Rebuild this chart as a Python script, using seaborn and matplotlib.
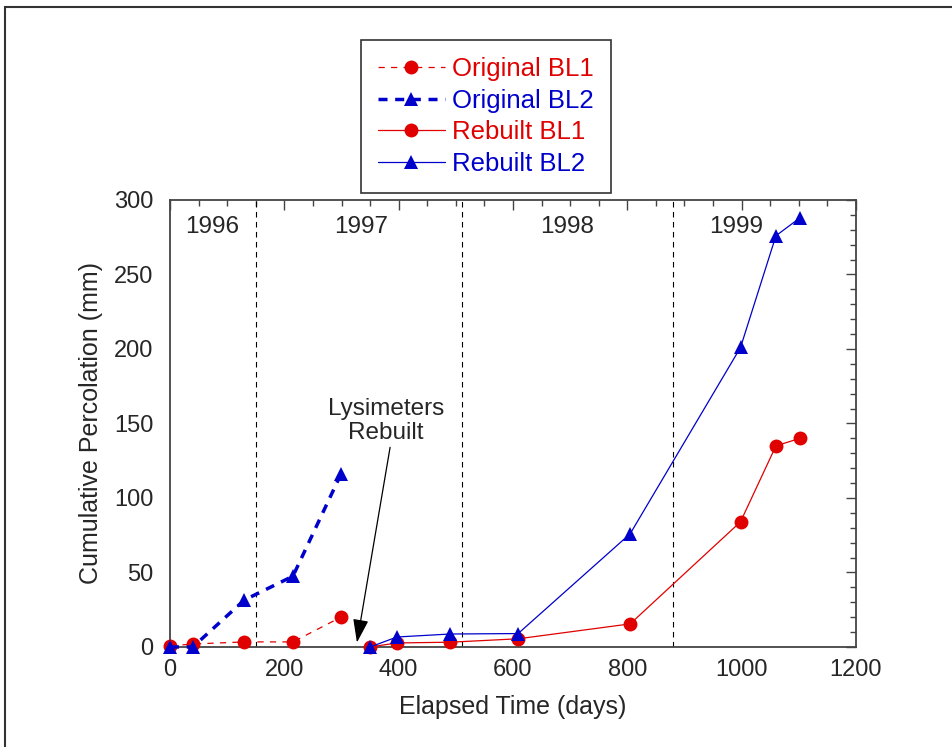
import matplotlib
matplotlib.use("Agg")
import matplotlib.pyplot as plt
from matplotlib.patches import Rectangle
from matplotlib.ticker import MultipleLocator
import pandas as pd
import seaborn as sns

# data (days, mm)
orig_days = [0, 40, 130, 215, 299]
orig_bl1 = [0.7, 2.0, 3.4, 3.4, 20]
orig_bl2 = [0, 0, 31.5, 47.5, 116]

rebuilt_days = [350, 397, 490, 609, 805, 998, 1060, 1102]
rebuilt_bl1 = [0, 2.7, 3.2, 5.5, 15.5, 84, 135, 140]
rebuilt_bl2 = [0, 6.7, 8.7, 9.0, 76, 201, 276, 288]

year_bounds = [150, 511, 880]
year_labels = ["1996", "1997", "1998", "1999"]
year_label_x = [73, 335, 694, 990]

RED = "#e00000"
BLUE = "#0000cc"

sns.set_style("white")
plt.rcParams["font.family"] = ["Liberation Sans", "DejaVu Sans"]

fig = plt.figure(figsize=(9.53, 7.47), dpi=100)
ax = fig.add_axes([0.1784, 0.1339, 0.7198, 0.5984])

df_o = pd.DataFrame({"days": orig_days, "bl1": orig_bl1, "bl2": orig_bl2})
df_r = pd.DataFrame({"days": rebuilt_days, "bl1": rebuilt_bl1, "bl2": rebuilt_bl2})

sns.lineplot(data=df_o, x="days", y="bl1", ax=ax, color=RED, marker="o", markersize=10,
             markeredgewidth=0, lw=0.9, linestyle="--", label="Original BL1",
             legend=False, sort=False, clip_on=False, zorder=4)
ax.lines[-1].set_dashes((5, 5))
sns.lineplot(data=df_o, x="days", y="bl2", ax=ax, color=BLUE, marker="^", markersize=10,
             markeredgewidth=0, lw=2.5, linestyle="--", label="Original BL2",
             legend=False, sort=False, clip_on=False, zorder=4)
ax.lines[-1].set_dashes((2.6, 2.2))
sns.lineplot(data=df_r, x="days", y="bl1", ax=ax, color=RED, marker="o", markersize=10,
             markeredgewidth=0, lw=0.9, label="Rebuilt BL1",
             legend=False, sort=False, clip_on=False, zorder=4)
sns.lineplot(data=df_r, x="days", y="bl2", ax=ax, color=BLUE, marker="^", markersize=10,
             markeredgewidth=0, lw=0.9, label="Rebuilt BL2",
             legend=False, sort=False, clip_on=False, zorder=4)

for xb in year_bounds:
    ax.axvline(xb, color="black", lw=0.8, dashes=(5, 4), zorder=1)
for xl, lab in zip(year_label_x, year_labels):
    ax.text(xl, 282, lab, ha="center", va="center", fontsize=17.5)

ax.text(378, 136, "Lysimeters\nRebuilt", ha="center", va="bottom", fontsize=17.5,
        linespacing=1.15)
ax.annotate("", xy=(327, 3), xytext=(385, 134),
            arrowprops=dict(arrowstyle="-|>,head_length=0.72,head_width=0.24",
                            mutation_scale=20, color="black", lw=0.9,
                            shrinkA=0, shrinkB=0))

ax.set_xlim(0, 1200)
ax.set_ylim(0, 300)
ax.xaxis.set_major_locator(MultipleLocator(200))
ax.xaxis.set_minor_locator(MultipleLocator(50))
ax.yaxis.set_major_locator(MultipleLocator(50))
ax.yaxis.set_minor_locator(MultipleLocator(10))
ax.tick_params(which="both", direction="in", top=True, right=True, color="#444444")
ax.tick_params(which="major", length=7, width=1)
ax.tick_params(which="minor", length=4.5, width=1)
ax.tick_params(axis="x", labelsize=17, pad=9)
ax.tick_params(axis="y", labelsize=17, pad=12)
for sp in ax.spines.values():
    sp.set_color("#444444")
    sp.set_linewidth(1.3)

ax.set_xlabel("Elapsed Time (days)", fontsize=18, labelpad=10)
ax.set_ylabel("Cumulative Percolation (mm)", fontsize=18, labelpad=8)

handles, labels = ax.get_legend_handles_labels()
leg = fig.legend(handles, labels, loc="upper center", bbox_to_anchor=(0.51, 0.947),
                 fontsize=18.5, labelcolor="linecolor", handlelength=2.6,
                 frameon=True, fancybox=False, edgecolor="black", borderpad=0.67,
                 labelspacing=0.3, handletextpad=0.3, borderaxespad=0)
leg.get_frame().set_linewidth(1.2)

fig.patches.append(Rectangle((5 / 953, -0.5), 2, 1.5 - 7 / 747, transform=fig.transFigure,
                             fill=False, edgecolor="#333333", lw=1.5, clip_on=False))

fig.savefig("out.png", dpi=100)
